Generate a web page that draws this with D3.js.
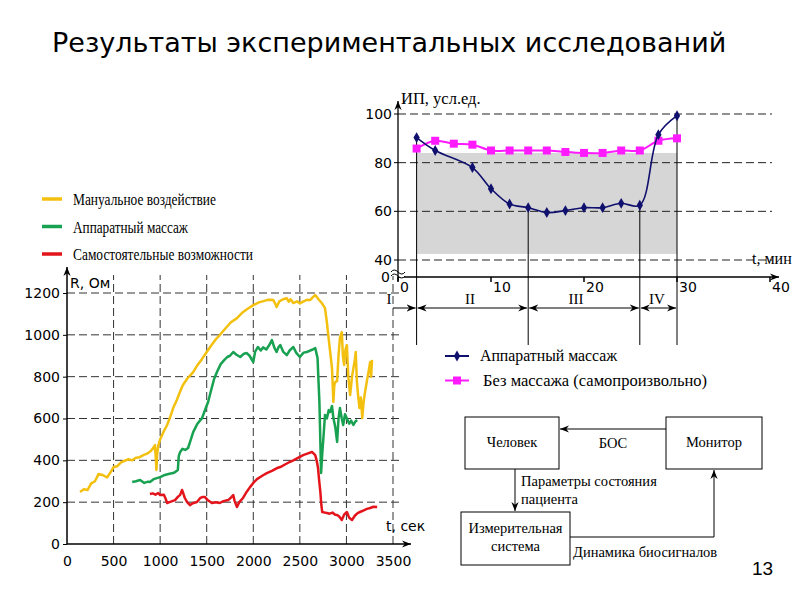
<!DOCTYPE html>
<html>
<head>
<meta charset="utf-8">
<script src="https://cdn.jsdelivr.net/npm/d3@7"></script>
<style>
  body { margin: 0; background: #fff; }
  svg { display: block; }
  .sans { font-family: "DejaVu Sans", Verdana, sans-serif; }
  .serif { font-family: "Liberation Serif", "Times New Roman", serif; }
</style>
</head>
<body>
<svg id="chart" width="800" height="600"></svg>
<script>
// ---- left chart: skin resistance, R (Ohm) vs t (sec) ----
const manualSeries = [
  [140,249],[180,262],[220,258],[260,290],[300,300],[340,335],[380,330],[430,318],[470,345],[500,368],
  [540,372],[580,390],[620,398],[660,405],[700,400],[740,412],[780,415],[820,425],[860,432],[900,445],
  [930,462],[945,473],[952,420],[960,354],[968,430],[980,470],[1000,500],[1040,540],[1075,569],[1110,610],
  [1140,650],[1180,690],[1220,735],[1245,760],[1290,790],[1355,822],[1400,855],[1450,885],[1500,918],
  [1550,950],[1600,980],[1640,999],[1700,1030],[1760,1060],[1825,1080],[1880,1105],[1940,1125],[2000,1142],
  [2060,1155],[2100,1160],[2145,1166],[2180,1168],[2215,1166],[2240,1145],[2250,1133],[2280,1160],[2320,1170],
  [2360,1175],[2380,1158],[2400,1170],[2430,1152],[2470,1160],[2500,1150],[2540,1160],[2580,1168],[2610,1166],
  [2640,1180],[2665,1190],[2700,1170],[2735,1152],[2770,1128],[2790,1060],[2805,999],[2830,900],[2845,841],
  [2860,679],[2870,760],[2880,774],[2900,780],[2915,900],[2930,985],[2950,1013],[2962,900],[2975,856],
  [2990,930],[3005,951],[3020,800],[3040,712],[3060,800],[3075,841],[3090,880],[3100,918],[3112,780],
  [3125,712],[3140,650],[3155,700],[3170,602],[3185,680],[3200,727],[3220,780],[3240,830],[3255,870],
  [3265,800],[3275,880]
];
const deviceSeries = [
  [700,296],[740,300],[785,306],[830,292],[870,298],[890,296],[930,310],[1000,320],[1050,330],[1100,336],
  [1140,339],[1165,345],[1190,354],[1200,420],[1215,440],[1240,455],[1270,450],[1300,459],[1330,500],
  [1355,535],[1400,575],[1450,602],[1490,650],[1515,679],[1550,740],[1580,790],[1610,822],[1650,860],
  [1690,880],[1720,894],[1750,900],[1785,918],[1820,905],[1860,894],[1900,910],[1930,913],[1960,900],
  [2000,870],[2020,920],[2050,942],[2080,925],[2105,940],[2140,930],[2170,950],[2200,975],[2225,940],
  [2250,918],[2270,940],[2290,951],[2320,920],[2360,903],[2390,925],[2430,942],[2460,915],[2500,894],
  [2540,915],[2575,918],[2610,925],[2640,930],[2665,937],[2690,889],[2700,780],[2710,679],[2720,488],
  [2728,340],[2740,430],[2755,520],[2770,617],[2790,600],[2810,640],[2825,631],[2845,660],[2860,602],
  [2880,560],[2900,488],[2915,600],[2930,650],[2950,600],[2965,569],[2985,620],[3005,600],[3030,575],
  [3050,590],[3075,569],[3095,585],[3115,593]
];
const selfSeries = [
  [890,239],[920,242],[950,236],[980,244],[1000,234],[1040,236],[1060,215],[1075,196],[1100,200],[1130,205],
  [1160,210],[1190,225],[1215,235],[1235,258],[1250,240],[1265,220],[1290,200],[1320,186],[1350,195],
  [1395,201],[1430,220],[1460,225],[1480,225],[1510,210],[1555,196],[1600,200],[1640,196],[1680,205],
  [1730,210],[1760,222],[1785,234],[1800,205],[1825,177],[1850,200],[1890,220],[1930,250],[1965,272],
  [2000,292],[2040,310],[2075,320],[2110,330],[2145,339],[2200,350],[2250,362],[2290,368],[2340,380],
  [2390,392],[2430,400],[2480,412],[2535,425],[2580,432],[2630,440],[2665,425],[2680,400],[2695,363],
  [2708,300],[2720,249],[2730,190],[2740,153],[2770,150],[2790,148],[2820,145],[2850,150],[2880,140],
  [2900,139],[2925,130],[2950,115],[2975,140],[3005,153],[3030,125],[3060,115],[3090,135],[3120,148],
  [3145,153],[3180,160],[3220,168],[3255,172],[3290,178],[3330,177]
];
const leftNames = ["Мануальное воздействие", "Аппаратный массаж", "Самостоятельные возможности"];
const leftColors = ["#f3c010", "#17a150", "#e3141b"];
const leftXTicks = [0, 500, 1000, 1500, 2000, 2500, 3000, 3500];
const leftYTicks = [0, 200, 400, 600, 800, 1000, 1200];

// ---- right chart: index (conv. units) vs t (min) ----
const massageTime = [2, 4, 8, 10, 12, 14, 16, 18, 20, 22, 24, 26, 28, 30];
const massageValue = [90.3, 85, 78, 69.3, 63, 61.5, 59.5, 60.3, 61.5, 61.5, 63.3, 62.5, 91.5, 99.3];
const freeTime = [2, 4, 6, 8, 10, 12, 14, 16, 18, 20, 22, 24, 26, 28, 30];
const freeValue = [85.8, 89, 87.8, 87.4, 85, 85, 85, 85, 84.4, 84, 84, 85, 85, 89, 90];
const bandTime = [2, 30];
const bandValue = [42.5, 84];
const phaseBounds = [0, 2, 14, 26, 30];
const phaseNames = ["I", "II", "III", "IV"];
const rightXTicks = [0, 10, 20, 30, 40];
const rightYTicks = [40, 60, 80, 100];
const rightNames = ["Аппаратный массаж", "Без массажа (самопроизвольно)"];
const rightColors = ["#10106e", "#ff1aff"];

const svg = d3.select("#chart");

const defs = svg.append("defs");
defs.append("marker")
  .attr("id", "arrow")
  .attr("viewBox", "0 0 10 10")
  .attr("refX", 10).attr("refY", 5)
  .attr("markerWidth", 9).attr("markerHeight", 9)
  .attr("markerUnits", "userSpaceOnUse")
  .attr("orient", "auto-start-reverse")
  .append("path")
  .attr("d", "M0,1 L10,5 L0,9 L3,5 Z")
  .attr("fill", "#000");

// title
svg.append("text")
  .attr("class", "sans")
  .attr("x", 52).attr("y", 52)
  .attr("font-size", 27)
  .text("Результаты экспериментальных исследований");

// ================= LEFT CHART =================
const lx = d3.scaleLinear().domain([0, 3500]).range([67, 393]);
const ly = d3.scaleLinear().domain([0, 1200]).range([544, 293]);

const left = svg.append("g").attr("id", "left");

// grid
left.selectAll(".hgrid")
  .data(leftYTicks.filter((d) => d > 0))
  .enter()
  .append("line")
  .attr("x1", lx(0)).attr("x2", 400)
  .attr("y1", (d) => ly(d)).attr("y2", (d) => ly(d))
  .attr("stroke", "#333").attr("stroke-width", 1)
  .attr("stroke-dasharray", "8,4");

left.selectAll(".vgrid")
  .data(leftXTicks.filter((d) => d > 0))
  .enter()
  .append("line")
  .attr("x1", (d) => lx(d)).attr("x2", (d) => lx(d))
  .attr("y1", ly(0)).attr("y2", 275)
  .attr("stroke", "#333").attr("stroke-width", 1)
  .attr("stroke-dasharray", "8,4");

// axes
left.append("line")
  .attr("x1", lx(0)).attr("x2", lx(0))
  .attr("y1", ly(0)).attr("y2", 267)
  .attr("stroke", "#000").attr("stroke-width", 1.5)
  .attr("marker-end", "url(#arrow)");
left.append("line")
  .attr("x1", lx(0)).attr("x2", 411)
  .attr("y1", ly(0)).attr("y2", ly(0))
  .attr("stroke", "#000").attr("stroke-width", 1.5)
  .attr("marker-end", "url(#arrow)");

const lxAxis = d3.axisBottom(lx).tickValues(leftXTicks).tickFormat(d3.format("d"))
  .tickSize(0).tickPadding(12);
left.append("g")
  .attr("transform", `translate(0,${ly(0)})`)
  .call(lxAxis)
  .call((g) => g.select(".domain").remove())
  .selectAll("text")
  .attr("class", "sans").attr("font-size", 14).attr("fill", "#000");

const lyAxis = d3.axisLeft(ly).tickValues(leftYTicks).tickFormat(d3.format("d"))
  .tickSize(4).tickPadding(3);
left.append("g")
  .attr("transform", `translate(${lx(0)},0)`)
  .call(lyAxis)
  .call((g) => g.select(".domain").remove())
  .call((g) => g.selectAll("line").attr("stroke", "#000"))
  .selectAll("text")
  .attr("class", "sans").attr("font-size", 14).attr("fill", "#000");

left.append("text").attr("class", "sans").attr("font-size", 14)
  .attr("x", 70).attr("y", 288).text("R, Ом");
left.append("text").attr("class", "sans").attr("font-size", 14)
  .attr("x", 386).attr("y", 531).text("t, сек");

const lline = d3.line().x((d) => lx(d[0])).y((d) => ly(d[1]));
[manualSeries, deviceSeries, selfSeries].forEach((s, i) => {
  left.append("path")
    .attr("d", lline(s))
    .attr("fill", "none")
    .attr("stroke", leftColors[i])
    .attr("stroke-width", 2.5)
    .attr("stroke-linejoin", "round");
});

// left legend
const legendLengths = [143, 115, 180];
leftNames.forEach((name, i) => {
  const y = 199 + i * 27.5;
  left.append("line")
    .attr("x1", 42).attr("x2", 62)
    .attr("y1", y).attr("y2", y)
    .attr("stroke", leftColors[i]).attr("stroke-width", 3.5);
  left.append("text")
    .attr("class", "serif")
    .attr("x", 73).attr("y", y + 6)
    .attr("font-size", 16)
    .attr("textLength", legendLengths[i])
    .attr("lengthAdjust", "spacingAndGlyphs")
    .text(name);
});

// ================= RIGHT CHART =================
const rx = d3.scaleLinear().domain([0, 40]).range([398, 770]);
const ry = d3.scaleLinear().domain([40, 100]).range([260, 114]);
const zeroY = 277;

const right = svg.append("g").attr("id", "right");

right.append("rect")
  .attr("x", rx(bandTime[0])).attr("width", rx(bandTime[1]) - rx(bandTime[0]))
  .attr("y", ry(bandValue[1])).attr("height", ry(bandValue[0]) - ry(bandValue[1]))
  .attr("fill", "#d6d6d6");

right.selectAll(".hgrid")
  .data(rightYTicks)
  .enter()
  .append("line")
  .attr("x1", rx(0)).attr("x2", 772)
  .attr("y1", (d) => ry(d)).attr("y2", (d) => ry(d))
  .attr("stroke", "#222").attr("stroke-width", 1)
  .attr("stroke-dasharray", "8,4");

// axes
right.append("line")
  .attr("x1", rx(0)).attr("x2", rx(0))
  .attr("y1", zeroY + 4).attr("y2", 101)
  .attr("stroke", "#000").attr("stroke-width", 1.3)
  .attr("marker-end", "url(#arrow)");
right.append("line")
  .attr("x1", rx(0)).attr("x2", 779)
  .attr("y1", zeroY).attr("y2", zeroY)
  .attr("stroke", "#000").attr("stroke-width", 1.3)
  .attr("marker-end", "url(#arrow)");

// axis break mark
right.append("path")
  .attr("d", "M391,272 q3,-4 7,0 t7,0 M391,276 q3,-4 7,0 t7,0")
  .attr("fill", "#fff").attr("stroke", "#000").attr("stroke-width", 1);

right.selectAll(".ytick")
  .data(rightYTicks)
  .enter()
  .append("line")
  .attr("x1", rx(0) - 4).attr("x2", rx(0))
  .attr("y1", (d) => ry(d)).attr("y2", (d) => ry(d))
  .attr("stroke", "#000");

right.selectAll(".ylab")
  .data(rightYTicks)
  .enter()
  .append("text")
  .attr("class", "sans").attr("font-size", 14)
  .attr("text-anchor", "end")
  .attr("x", rx(0) - 6).attr("y", (d) => ry(d) + 5)
  .text((d) => d);
right.append("text")
  .attr("class", "sans").attr("font-size", 14)
  .attr("text-anchor", "end")
  .attr("x", rx(0) - 8).attr("y", zeroY + 5)
  .text("0");

right.selectAll(".xtick")
  .data(rightXTicks)
  .enter()
  .append("line")
  .attr("x1", (d) => rx(d)).attr("x2", (d) => rx(d))
  .attr("y1", zeroY).attr("y2", zeroY + 5)
  .attr("stroke", "#000").attr("stroke-width", 1.5);

right.selectAll(".xlab")
  .data(rightXTicks)
  .enter()
  .append("text")
  .attr("class", "sans").attr("font-size", 14)
  .attr("x", (d) => rx(d) + 2).attr("y", zeroY + 15)
  .text((d) => d);

right.append("text").attr("class", "serif").attr("font-size", 16.5)
  .attr("x", 401).attr("y", 104).text("ИП, усл.ед.");
right.append("text").attr("class", "serif").attr("font-size", 16)
  .attr("x", 752).attr("y", 264).text("t, мин");

// phase separators
const massagePoints = massageTime.map((t, i) => [t, massageValue[i]]);
const freePoints = freeTime.map((t, i) => [t, freeValue[i]]);
const phaseArrowY = 308;
const phaseLabelX = [389, 470, 576, 657];
phaseBounds.slice(1).forEach((t) => {
  const p = massagePoints.find((d) => d[0] === t);
  right.append("line")
    .attr("x1", rx(t)).attr("x2", rx(t))
    .attr("y1", ry(p[1])).attr("y2", 345)
    .attr("stroke", "#000").attr("stroke-width", 1);
});
phaseNames.forEach((name, i) => {
  const a = phaseBounds[i], b = phaseBounds[i + 1];
  right.append("line")
    .attr("x1", i === 0 ? rx(a) - 5 : rx(a) + 1)
    .attr("x2", rx(b) - 1)
    .attr("y1", phaseArrowY).attr("y2", phaseArrowY)
    .attr("stroke", "#000").attr("stroke-width", 1)
    .attr("marker-start", i === 0 ? null : "url(#arrow)")
    .attr("marker-end", "url(#arrow)");
  right.append("text")
    .attr("class", "serif").attr("font-size", 15)
    .attr("text-anchor", "middle")
    .attr("x", phaseLabelX[i])
    .attr("y", 304)
    .text(name);
});

const rline = d3.line().x((d) => rx(d[0])).y((d) => ry(d[1])).curve(d3.curveCatmullRom);

right.append("path")
  .attr("d", rline(freePoints))
  .attr("fill", "none").attr("stroke", rightColors[1]).attr("stroke-width", 2);
right.selectAll(".sq")
  .data(freePoints)
  .enter()
  .append("rect")
  .attr("x", (d) => rx(d[0]) - 4).attr("y", (d) => ry(d[1]) - 4)
  .attr("width", 8).attr("height", 8)
  .attr("fill", rightColors[1]);

right.append("path")
  .attr("d", rline(massagePoints))
  .attr("fill", "none").attr("stroke", rightColors[0]).attr("stroke-width", 1.6);
const diamond = d3.symbol().type(d3.symbolDiamond).size(34);
right.selectAll(".dm")
  .data(massagePoints)
  .enter()
  .append("path")
  .attr("d", diamond)
  .attr("transform", (d) => `translate(${rx(d[0])},${ry(d[1])})`)
  .attr("fill", rightColors[0]);

// right legend
rightNames.forEach((name, i) => {
  const y = 356 + i * 24.5;
  right.append("line")
    .attr("x1", 445).attr("x2", 469)
    .attr("y1", y).attr("y2", y)
    .attr("stroke", rightColors[i]).attr("stroke-width", 2);
  if (i === 0) {
    right.append("path").attr("d", diamond)
      .attr("transform", `translate(457,${y})`).attr("fill", rightColors[0]);
  } else {
    right.append("rect").attr("x", 453).attr("y", y - 4)
      .attr("width", 8).attr("height", 8).attr("fill", rightColors[1]);
  }
  right.append("text")
    .attr("class", "serif").attr("font-size", i === 0 ? 15.8 : 16.5)
    .attr("x", i === 0 ? 480 : 483).attr("y", y + 5)
    .text(name);
});

// ================= FEEDBACK DIAGRAM =================
const diagram = svg.append("g").attr("id", "diagram")
  .attr("class", "serif").attr("font-size", 14.5);

const boxes = [
  { x: 465, y: 417, w: 94, h: 52, lines: ["Человек"] },
  { x: 666, y: 417, w: 96, h: 52, lines: ["Монитор"] },
  { x: 461, y: 512, w: 109, h: 53, lines: ["Измерительная", "система"] },
];
boxes.forEach((b) => {
  diagram.append("rect")
    .attr("x", b.x).attr("y", b.y).attr("width", b.w).attr("height", b.h)
    .attr("fill", "#fff").attr("stroke", "#000").attr("stroke-width", 1);
  b.lines.forEach((t, i) => {
    diagram.append("text")
      .attr("text-anchor", "middle")
      .attr("x", b.x + b.w / 2)
      .attr("y", b.lines.length === 1 ? b.y + 30 : b.y + 21 + i * 18)
      .text(t);
  });
});

diagram.append("line")
  .attr("x1", 666).attr("y1", 429).attr("x2", 560).attr("y2", 429)
  .attr("stroke", "#000").attr("marker-end", "url(#arrow)");
diagram.append("line")
  .attr("x1", 515).attr("y1", 469).attr("x2", 515).attr("y2", 511)
  .attr("stroke", "#000").attr("marker-end", "url(#arrow)");
diagram.append("path")
  .attr("d", "M570,537 H714 V470")
  .attr("fill", "none").attr("stroke", "#000").attr("marker-end", "url(#arrow)");

diagram.append("text").attr("text-anchor", "middle").attr("x", 613).attr("y", 448).text("БОС");
diagram.append("text").attr("x", 521).attr("y", 486).text("Параметры состояния");
diagram.append("text").attr("x", 521).attr("y", 504).text("пациента");
diagram.append("text").attr("x", 573).attr("y", 557).text("Динамика биосигналов");

svg.append("text")
  .attr("font-family", "Liberation Sans, Arial, sans-serif")
  .attr("font-size", 19)
  .attr("x", 752).attr("y", 575)
  .text("13");
</script>
</body>
</html>
